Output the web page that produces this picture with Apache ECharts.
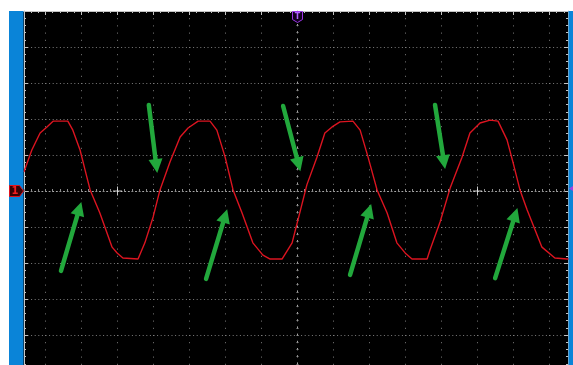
<!DOCTYPE html>
<html>
<head>
<meta charset="utf-8">
<script src="https://cdn.jsdelivr.net/npm/echarts@6/dist/echarts.min.js"></script>
<style>
  html, body { margin: 0; padding: 0; background: #ffffff; overflow: hidden; }
  /* the screen graticule runs a little past the window edges */
  #scope { width: 600px; height: 380px; }
</style>
</head>
<body>
<div id="scope"></div>
<script>
// Channel 1 trace, in screen divisions (time relative to the trigger, volts relative to ground)
const timeDiv = [
  -7.60, -7.38, -7.15, -6.96, -6.79, -6.38, -6.24, -6.04, -5.90, -5.76,
  -5.49, -5.15, -5.01, -4.85, -4.43, -4.24, -4.01, -3.82, -3.54, -3.26,
  -3.04, -2.76, -2.43, -2.24, -2.01, -1.79, -1.54, -1.24, -0.96, -0.76,
  -0.43, -0.15, 0.07, 0.26, 0.54, 0.76, 0.96, 1.18, 1.54, 1.74,
  1.96, 2.21, 2.49, 2.76, 2.99, 3.18, 3.60, 3.68, 3.96, 4.24,
  4.57, 4.79, 5.07, 5.35, 5.57, 5.82, 5.99, 6.18, 6.38, 6.79,
  7.15, 7.49, 7.60
];
const voltDiv = [
  0.53, 1.14, 1.61, 1.78, 1.94, 1.94, 1.69, 1.14, 0.58, 0.03,
  -0.61, -1.56, -1.72, -1.86, -1.89, -1.44, -0.72, 0.03, 0.81, 1.50,
  1.75, 1.94, 1.94, 1.69, 0.94, 0.03, -0.61, -1.44, -1.78, -1.89,
  -1.89, -1.44, -0.58, 0.17, 0.94, 1.61, 1.78, 1.92, 1.94, 1.69,
  0.94, 0.03, -0.61, -1.44, -1.72, -1.89, -1.89, -1.64, -0.86, 0.08,
  0.94, 1.61, 1.89, 1.97, 1.94, 1.42, 0.78, 0.03, -0.53, -1.56,
  -1.86, -1.89, -1.89
];

// Annotation arrows: tail point and arrow-head point, in divisions
const arrowTail = [
  [-6.57, -2.22], [-4.13, 2.39], [-2.54, -2.44], [-0.40, 2.36],
  [1.46, -2.33], [3.82, 2.39], [5.49, -2.42]
];
const arrowHead = [
  [-6.06, -0.49], [-3.92, 0.69], [-2.01, -0.69], [0.03, 0.74],
  [1.99, -0.55], [4.07, 0.80], [6.05, -0.66]
];

// Graticule crosshair marks on the centre line
const crossMarks = [-5, 5];

// Screen extent in divisions
const xRange = [-8, 8];
const yRange = [-5, 5];

const traceColor = '#dc1420';
const arrowColor = '#22a83c';
const gridDot = '#7c7c7c';
const edgeGrey = '#c4c4c4';
const centreGrey = '#a8a8a8';
const centreTick = '#8c8c8c';

const traceData = timeDiv.map((t, i) => [t, voltDiv[i]]);
const arrowData = arrowTail.map((p, i) => [{ coord: p }, { coord: arrowHead[i] }]);
const crossData = crossMarks.map(t => [t, 0]);

const hidden = { show: false };

function edgeX(extra) {
  return Object.assign({
    type: 'value', min: xRange[0], max: xRange[1], interval: 1,
    axisLabel: hidden, splitLine: hidden
  }, extra);
}
function edgeY(extra) {
  return Object.assign({
    type: 'value', min: yRange[0], max: yRange[1], interval: 1,
    axisLabel: hidden, splitLine: hidden
  }, extra);
}

const chart = echarts.init(document.getElementById('scope'), null, { renderer: 'canvas' });

chart.setOption({
  animation: false,
  backgroundColor: '#ffffff',
  grid: {
    left: 9.5, right: 14.5, top: 11, bottom: 9,
    show: true, backgroundColor: '#000000', borderWidth: 0
  },
  xAxis: [
    // vertical graticule lines
    edgeX({
      position: 'bottom',
      axisLine: hidden, axisTick: hidden,
      splitLine: { show: true, lineStyle: { color: gridDot, width: 1, type: [1, 6.2] } }
    }),
    // top edge scale
    edgeX({
      position: 'top',
      axisLine: { show: true, onZero: false, lineStyle: { color: edgeGrey, width: 1 } },
      axisTick: { show: true, inside: true, length: 4, lineStyle: { color: edgeGrey } },
      minorTick: { show: true, splitNumber: 5, length: 2, lineStyle: { color: edgeGrey } }
    }),
    // horizontal centre line, ticks above
    edgeX({
      position: 'bottom',
      axisLine: { show: true, onZero: true, onZeroAxisIndex: 0, lineStyle: { color: centreGrey, width: 1, type: [1, 2.6] } },
      axisTick: { show: true, inside: true, length: 2, lineStyle: { color: centreTick } },
      minorTick: { show: true, splitNumber: 5, length: 2, lineStyle: { color: centreTick } }
    }),
    // horizontal centre line, ticks below
    edgeX({
      position: 'bottom',
      axisLine: { show: false, onZero: true, onZeroAxisIndex: 0 },
      axisTick: { show: true, inside: false, length: 1, lineStyle: { color: centreTick } },
      minorTick: { show: true, splitNumber: 5, length: 1, lineStyle: { color: centreTick } }
    })
  ],
  yAxis: [
    // left edge scale + horizontal graticule lines
    edgeY({
      position: 'left', offset: -14.5,
      axisLine: { show: true, onZero: false, lineStyle: { color: edgeGrey, width: 1 } },
      axisTick: { show: true, inside: true, length: 4, lineStyle: { color: edgeGrey } },
      minorTick: { show: true, splitNumber: 5, length: 2, lineStyle: { color: edgeGrey } },
      splitLine: { show: true, lineStyle: { color: gridDot, width: 1, type: [1, 2.6] } }
    }),
    // right edge scale
    edgeY({
      position: 'right', offset: -17.5,
      axisLine: { show: true, onZero: false, lineStyle: { color: edgeGrey, width: 1 } },
      axisTick: { show: true, inside: true, length: 4, lineStyle: { color: edgeGrey } },
      minorTick: { show: true, splitNumber: 5, length: 2, lineStyle: { color: edgeGrey } }
    }),
    // vertical centre line, ticks right
    edgeY({
      position: 'left',
      axisLine: { show: true, onZero: true, onZeroAxisIndex: 0, lineStyle: { color: centreGrey, width: 1, type: [1, 6.2] } },
      axisTick: { show: true, inside: true, length: 1, lineStyle: { color: centreTick } },
      minorTick: { show: true, splitNumber: 5, length: 1, lineStyle: { color: centreTick } }
    }),
    // vertical centre line, ticks left
    edgeY({
      position: 'left',
      axisLine: { show: false, onZero: true, onZeroAxisIndex: 0 },
      axisTick: { show: true, inside: false, length: 1, lineStyle: { color: centreTick } },
      minorTick: { show: true, splitNumber: 5, length: 1, lineStyle: { color: centreTick } }
    })
  ],
  series: [
    {
      name: 'CH1',
      type: 'line',
      xAxisIndex: 0, yAxisIndex: 0,
      data: traceData,
      showSymbol: false,
      smooth: false,
      clip: true,
      silent: true,
      z: 5,
      lineStyle: { color: traceColor, width: 1.4 }
    },
    {
      name: 'marks',
      type: 'scatter',
      xAxisIndex: 0, yAxisIndex: 0,
      data: crossData,
      symbol: 'path://M4,0H5V9H4Z M0,4H9V5H0Z',
      symbolSize: 9,
      silent: true,
      z: 4,
      itemStyle: { color: '#f2f2f2' }
    },
    {
      name: 'arrows',
      type: 'line',
      xAxisIndex: 0, yAxisIndex: 0,
      data: [],
      silent: true,
      z: 6,
      markLine: {
        silent: true,
        animation: false,
        symbol: ['none', 'triangle'],
        symbolSize: 14,
        label: { show: false },
        lineStyle: { color: arrowColor, width: 4.5, type: 'solid', cap: 'round' },
        emphasis: { disabled: true },
        data: arrowData
      }
    }
  ],
  graphic: [
    // side bars
    { type: 'rect', z: 100, silent: true, shape: { x: 9, y: 11, width: 14.5, height: 369 }, style: { fill: '#0a84d8' } },
    { type: 'rect', z: 100, silent: true, shape: { x: 568.5, y: 11, width: 31.5, height: 369 }, style: { fill: '#0a84d8' } },
    // channel 1 ground marker
    { type: 'polygon', z: 110, silent: true,
      shape: { points: [[9.5, 185.5], [19.5, 185.5], [23.5, 191], [19.5, 196.5], [9.5, 196.5]] },
      style: { fill: '#3a0306', stroke: '#e0141e', lineWidth: 1 } },
    { type: 'text', z: 111, silent: true, x: 15, y: 191.5,
      style: { text: '1', fill: '#f02020', font: 'bold 10px "DejaVu Sans"', align: 'center', verticalAlign: 'middle' } },
    // trigger position marker
    { type: 'polygon', z: 110, silent: true,
      shape: { points: [[292.5, 11.5], [302.5, 11.5], [302.5, 19.5], [297.5, 22.5], [292.5, 19.5]] },
      style: { fill: '#14001e', stroke: '#9a34e6', lineWidth: 1 } },
    { type: 'text', z: 111, silent: true, x: 297.5, y: 16.5,
      style: { text: 'T', fill: '#b060ff', font: 'bold 8px "DejaVu Sans"', align: 'center', verticalAlign: 'middle' } },
    // trigger level marker on the right bar
    { type: 'polygon', z: 110, silent: true, shape: { points: [[569, 188.5], [573, 186], [573, 191]] }, style: { fill: '#a040e0' } }
  ]
});
</script>
</body>
</html>
